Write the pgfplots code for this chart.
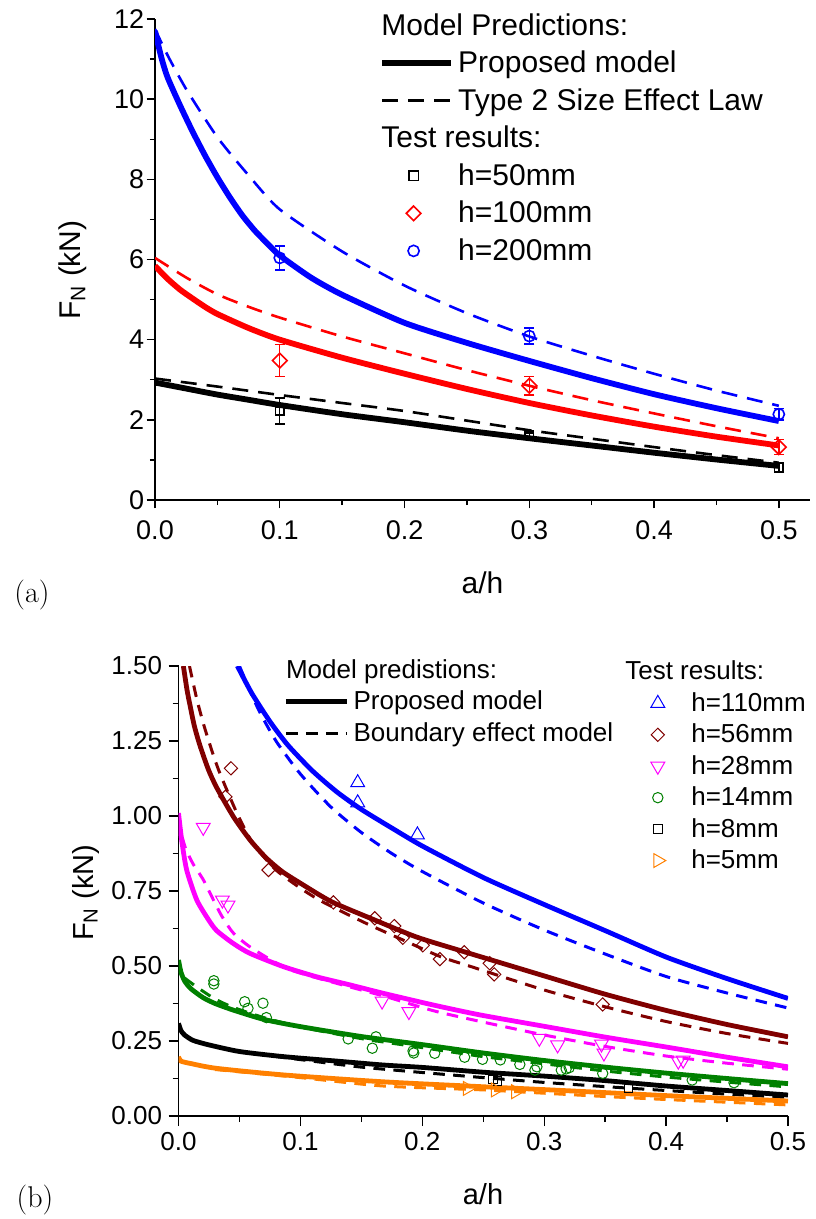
\documentclass[border=0pt]{standalone}
\usepackage{fontspec}
\setsansfont{Liberation Sans}
\usepackage{pgfplots}
\pgfplotsset{compat=1.18}
\definecolor{dred}{RGB}{128,0,0}
\definecolor{dgreen}{RGB}{0,128,0}
\definecolor{orng}{RGB}{255,128,0}
\definecolor{mag}{RGB}{255,0,255}
\pgfplotsset{
  tline/.style={legend image code/.code={\draw[##1] (0pt,0pt) -- (34.5pt,0pt);}},
  tmark/.style={legend image code/.code={\path[draw=none,fill=none] (0pt,0pt) -- (34.5pt,0pt); \path[##1] plot coordinates {(15.65pt,0pt)};}},
  bline/.style={legend image code/.code={\draw[##1] (0pt,0pt) -- (30.5pt,0pt);}},
  bmark/.style={legend image code/.code={\path[draw=none,fill=none] (0pt,0pt) -- (29pt,0pt); \path[##1] plot coordinates {(14.25pt,0pt)};}},
  tsolid/.style={line width=2.9pt, no markers, forget plot, smooth, tension=0.4},
  tdash/.style={line width=1.3pt, no markers, forget plot, smooth, tension=0.4, dash pattern=on 8pt off 5pt},
  bsolid/.style={line width=2.4pt, no markers, forget plot, smooth, tension=0.4},
  bdash/.style={line width=1.5pt, no markers, forget plot, smooth, tension=0.4, dash pattern=on 5.8pt off 4.2pt},
  ebar/.style={error bars/.cd, y dir=both, y explicit, error bar style={line width=0.7pt},
     error mark options={rotate=90, mark size=2.6pt, line width=0.7pt}},
}
\begin{document}
\begin{tikzpicture}
\useasboundingbox (0,0) rectangle (407.5pt,-609.5pt);
% ---------------- panel (a)
\begin{axis}[
  at={(77.5pt,-250pt)}, anchor=south west,
  scale only axis, width=327.5pt, height=240.5pt,
  xmin=0, xmax=0.525, ymin=0, ymax=12,
  axis lines*=left, tick align=outside,
  axis line style={line width=0.7pt},
  every tick/.style={black, line width=0.7pt},
  major tick length=4.2pt, minor tick length=2.6pt,
  xtick={0,0.1,0.2,0.3,0.4,0.5}, xticklabels={0.0,0.1,0.2,0.3,0.4,0.5},
  minor xtick={0.05,0.15,0.25,0.35,0.45},
  ytick={0,2,4,6,8,10,12}, yticklabels={0,2,4,6,8,10,12},
  minor ytick={1,3,5,7,9,11},
  tick label style={font=\sffamily\fontsize{13.5}{15}\selectfont},
  xticklabel style={inner ysep=6pt},
  yticklabel style={inner xsep=1pt},
  xlabel={a/h}, ylabel={F\textsubscript{N} (kN)},
  label style={font=\sffamily\fontsize{15}{17}\selectfont},
  xlabel style={at={(axis description cs:0.5,-0.1726)}, anchor=center},
  ylabel style={at={(axis description cs:-0.125,0.478)}, anchor=center},
  legend style={at={(axis description cs:0.342,1.021)}, anchor=north west, draw=none, fill=none,
     inner sep=0pt, row sep=2.4pt, font=\sffamily\fontsize{15}{17}\selectfont,
     nodes={inner sep=2pt, text depth=0.15em}},
  legend cell align=left,
]
% black h=50
\addplot[tsolid, black] coordinates {(0,2.93) (0.025,2.78) (0.05,2.63) (0.075,2.50) (0.1,2.37) (0.15,2.14) (0.2,1.94) (0.25,1.73) (0.3,1.54) (0.35,1.36) (0.4,1.18) (0.45,1.01) (0.5,0.85)};
\addplot[tdash, black] coordinates {(0,3.03) (0.05,2.83) (0.1,2.62) (0.15,2.42) (0.2,2.22) (0.25,1.98) (0.3,1.74) (0.35,1.53) (0.4,1.32) (0.45,1.12) (0.5,0.93)};
% red h=100
\addplot[tsolid, red] coordinates {(0,5.84) (0.01,5.52) (0.02,5.25) (0.03,5.03) (0.04,4.82) (0.05,4.64) (0.075,4.29) (0.1,4.0) (0.15,3.55) (0.2,3.15) (0.25,2.77) (0.3,2.42) (0.35,2.11) (0.4,1.83) (0.45,1.58) (0.5,1.36)};
\addplot[tdash, red] coordinates {(0,6.04) (0.025,5.55) (0.05,5.13) (0.075,4.82) (0.1,4.55) (0.15,4.08) (0.2,3.66) (0.25,3.24) (0.3,2.85) (0.35,2.49) (0.4,2.16) (0.45,1.84) (0.5,1.54)};
% blue h=200
\addplot[tsolid, blue] coordinates {(0,11.7) (0.005,11.05) (0.01,10.55) (0.02,9.85) (0.03,9.2) (0.04,8.6) (0.05,8.05) (0.06,7.55) (0.07,7.1) (0.08,6.72) (0.09,6.4) (0.1,6.1) (0.125,5.55) (0.15,5.12) (0.2,4.42) (0.25,3.92) (0.3,3.47) (0.35,3.04) (0.4,2.64) (0.45,2.29) (0.5,1.97)};
\addplot[tdash, blue] coordinates {(0,11.75) (0.01,11.1) (0.025,10.25) (0.05,9.05) (0.075,8.1) (0.1,7.25) (0.15,6.2) (0.2,5.35) (0.25,4.66) (0.3,4.08) (0.35,3.6) (0.4,3.15) (0.45,2.73) (0.5,2.35)};
% test results
\addplot[forget plot, only marks, black, mark=square, mark size=2.1pt, mark options={fill=white, line width=0.8pt}, ebar]
  coordinates {(0.1,2.22) +- (0,0.32) (0.3,1.62) +- (0,0.05) (0.5,0.81) +- (0,0.12)};
\addplot[forget plot, only marks, red, mark=square, mark size=2.6pt, mark options={rotate=45, fill=white, line width=0.8pt}, ebar]
  coordinates {(0.1,3.48) +- (0,0.4) (0.3,2.85) +- (0,0.23) (0.5,1.32) +- (0,0.19)};
\addplot[forget plot, only marks, blue, mark=o, mark size=2.8pt, mark options={fill=white, line width=0.8pt}, ebar]
  coordinates {(0.1,6.04) +- (0,0.3) (0.3,4.09) +- (0,0.2) (0.5,2.14) +- (0,0.14)};
% legend
\addlegendimage{empty legend}\addlegendentry{\hspace*{-38.4pt}Model Predictions:}
\addlegendimage{black, line width=2.9pt, tline}\addlegendentry{Proposed model}
\addlegendimage{black, line width=1.3pt, dash pattern=on 8pt off 5pt, tline}\addlegendentry{Type 2 Size Effect Law}
\addlegendimage{empty legend}\addlegendentry{\hspace*{-38.4pt}Test results:}
\addlegendimage{only marks, black, mark=square, mark size=2.4pt, mark options={line width=0.8pt, fill=white}, tmark}\addlegendentry{h=50mm}
\addlegendimage{only marks, red, mark=square, mark size=2.6pt, mark options={rotate=45, line width=0.8pt, fill=white}, tmark}\addlegendentry{h=100mm}
\addlegendimage{only marks, blue, mark=o, mark size=2.8pt, mark options={line width=0.8pt, fill=white}, tmark}\addlegendentry{h=200mm}
\end{axis}
% ---------------- panel (b)
\begin{axis}[
  at={(89.25pt,-558pt)}, anchor=south west,
  scale only axis, width=304.75pt, height=225pt,
  xmin=0, xmax=0.5, ymin=0, ymax=1.5,
  axis lines*=left, tick align=outside,
  axis line style={line width=0.7pt},
  every tick/.style={black, line width=0.7pt},
  major tick length=5pt, minor tick length=3pt,
  xtick={0,0.1,0.2,0.3,0.4,0.5}, xticklabels={0.0,0.1,0.2,0.3,0.4,0.5},
  minor xtick={0.05,0.15,0.25,0.35,0.45},
  ytick={0,0.25,0.5,0.75,1,1.25,1.5}, yticklabels={0.00,0.25,0.50,0.75,1.00,1.25,1.50},
  minor ytick={0.125,0.375,0.625,0.875,1.125,1.375},
  tick label style={font=\sffamily\fontsize{13}{15}\selectfont},
  xticklabel style={inner ysep=3pt},
  yticklabel style={inner xsep=3pt},
  xlabel={a/h}, ylabel={F\textsubscript{N} (kN)},
  label style={font=\sffamily\fontsize{14.5}{17}\selectfont},
  xlabel style={at={(axis description cs:0.4996,-0.173)}, anchor=center},
  ylabel style={at={(axis description cs:-0.152,0.496)}, anchor=center},
  legend style={at={(axis description cs:0.739,1.0209)}, anchor=north west, draw=none, fill=none,
     inner sep=0pt, row sep=0.8pt, font=\sffamily\fontsize{13}{15}\selectfont,
     nodes={inner sep=2pt, text depth=0.15em}},
  legend cell align=left,
]
% blue 110
\addplot[bsolid, blue] coordinates {(0.0483,1.5) (0.06,1.41) (0.075,1.315) (0.09,1.235) (0.11,1.15) (0.13,1.08) (0.15,1.022) (0.175,0.96) (0.2,0.9) (0.25,0.795) (0.3,0.705) (0.35,0.618) (0.4,0.53) (0.45,0.458) (0.5,0.392)};
\addplot[bdash, blue] coordinates {(0.05,1.5) (0.065,1.36) (0.08,1.25) (0.1,1.14) (0.125,1.03) (0.15,0.945) (0.175,0.875) (0.2,0.815) (0.25,0.71) (0.3,0.62) (0.35,0.54) (0.4,0.465) (0.45,0.41) (0.5,0.36)};
% dark red 56
\addplot[bsolid, dred] coordinates {(0.004,1.5) (0.007,1.42) (0.0094,1.37) (0.013,1.3) (0.0176,1.235) (0.0245,1.155) (0.0313,1.095) (0.045,0.998) (0.0587,0.92) (0.072,0.86) (0.085,0.815) (0.1,0.776) (0.1257,0.714) (0.16,0.655) (0.195,0.597) (0.234,0.548) (0.3,0.467) (0.35,0.406) (0.4,0.352) (0.45,0.305) (0.5,0.264)};
\addplot[bdash, dred] coordinates {(0.009,1.5) (0.015,1.39) (0.021,1.3) (0.028,1.21) (0.034,1.142) (0.048,1.009) (0.061,0.909) (0.08,0.82) (0.1024,0.753) (0.12,0.71) (0.154,0.642) (0.184,0.587) (0.215,0.531) (0.24,0.498) (0.3,0.42) (0.35,0.364) (0.4,0.315) (0.45,0.275) (0.5,0.242)};
% magenta 28
\addplot[bsolid, mag] coordinates {(0,1.01) (0.0026,0.92) (0.0067,0.82) (0.015,0.72) (0.0245,0.655) (0.0313,0.618) (0.045,0.575) (0.0587,0.542) (0.086,0.498) (0.1134,0.464) (0.1407,0.437) (0.168,0.409) (0.209,0.37) (0.2473,0.337) (0.3,0.299) (0.35,0.263) (0.4,0.23) (0.45,0.196) (0.5,0.164)};
\addplot[bdash, mag] coordinates {(0.003,0.93) (0.006,0.89) (0.012,0.84) (0.02,0.79) (0.025,0.75) (0.035,0.67) (0.045,0.61) (0.06,0.56) (0.09,0.49) (0.13,0.442) (0.17,0.398) (0.21,0.35) (0.25,0.313) (0.3,0.27) (0.35,0.232) (0.4,0.2) (0.45,0.176) (0.5,0.156)};
% green 14
\addplot[bsolid, dgreen] coordinates {(0,0.52) (0.002,0.48) (0.005,0.45) (0.01,0.425) (0.02,0.395) (0.03,0.375) (0.045,0.353) (0.07,0.322) (0.1,0.298) (0.15,0.265) (0.2,0.238) (0.25,0.21) (0.3,0.185) (0.35,0.163) (0.4,0.143) (0.45,0.125) (0.5,0.108)};
\addplot[bdash, dgreen] coordinates {(0.005,0.46) (0.015,0.43) (0.03,0.39) (0.045,0.362) (0.07,0.328) (0.1,0.297) (0.15,0.258) (0.2,0.228) (0.25,0.198) (0.3,0.174) (0.35,0.15) (0.4,0.13) (0.45,0.113) (0.5,0.097)};
% black 8
\addplot[bsolid, black] coordinates {(0,0.309) (0.002,0.285) (0.005,0.27) (0.012,0.252) (0.025,0.237) (0.05,0.215) (0.086,0.198) (0.13,0.183) (0.168,0.17) (0.2,0.162) (0.25,0.146) (0.3,0.133) (0.35,0.118) (0.4,0.1) (0.45,0.085) (0.5,0.07)};
\addplot[bdash, black] coordinates {(0.03,0.232) (0.05,0.215) (0.1,0.188) (0.15,0.163) (0.2,0.145) (0.25,0.128) (0.3,0.112) (0.35,0.098) (0.4,0.085) (0.45,0.073) (0.5,0.062)};
% orange 5
\addplot[bsolid, orng] coordinates {(0,0.198) (0.002,0.183) (0.01,0.175) (0.031,0.159) (0.086,0.137) (0.168,0.114) (0.2473,0.098) (0.3,0.088) (0.35,0.078) (0.4,0.068) (0.45,0.059) (0.5,0.05)};
\addplot[bdash, orng] coordinates {(0.03,0.155) (0.1,0.128) (0.168,0.1) (0.25,0.087) (0.3,0.076) (0.35,0.065) (0.4,0.055) (0.45,0.046) (0.5,0.037)};
% test results
\addplot[forget plot, only marks, blue, mark=triangle, mark size=4pt, mark options={fill=white, line width=0.5pt}]
  coordinates {(0.147,1.111) (0.147,1.044) (0.196,0.937)};
\addplot[forget plot, only marks, dred, mark=square, mark size=2.35pt, mark options={rotate=45, fill=white, line width=0.5pt}]
  coordinates {(0.043,1.159) (0.0385,1.064) (0.0738,0.82) (0.127,0.712) (0.161,0.659) (0.177,0.633) (0.184,0.594) (0.2004,0.569) (0.2144,0.523) (0.2344,0.546) (0.2553,0.509) (0.259,0.472) (0.348,0.372)};
\addplot[forget plot, only marks, mag, mark=triangle, mark size=4pt, mark options={rotate=180, fill=white, line width=0.5pt}]
  coordinates {(0.0203,0.962) (0.036,0.72) (0.0406,0.703) (0.167,0.383) (0.189,0.348) (0.296,0.259) (0.311,0.237) (0.347,0.24) (0.349,0.21) (0.41,0.183) (0.414,0.186)};
\addplot[forget plot, only marks, dgreen, mark=o, mark size=2.6pt, mark options={fill=white, line width=0.5pt}]
  coordinates {(0.029,0.451) (0.029,0.44) (0.0543,0.381) (0.057,0.359) (0.0693,0.376) (0.0721,0.328) (0.1392,0.257) (0.162,0.264) (0.159,0.226) (0.1924,0.217) (0.193,0.21) (0.2102,0.209) (0.2347,0.196) (0.2494,0.189) (0.264,0.187) (0.28,0.172) (0.2924,0.153) (0.294,0.164) (0.314,0.153) (0.318,0.157) (0.3205,0.161) (0.348,0.142) (0.4214,0.12) (0.4557,0.111)};
\addplot[forget plot, only marks, black, mark=square, mark size=2.1pt, mark options={fill=white, line width=0.5pt}]
  coordinates {(0.258,0.122) (0.2616,0.117) (0.3693,0.094)};
\addplot[forget plot, only marks, orng, mark=triangle, mark size=4pt, mark options={rotate=-90, fill=white, line width=0.5pt}]
  coordinates {(0.237,0.092) (0.26,0.087) (0.2766,0.081)};
% legend (test results)
\addlegendimage{empty legend}\addlegendentry{\hspace*{-33pt}Test results:}
\addlegendimage{only marks, blue, mark=triangle, mark size=4pt, mark options={line width=0.5pt}, bmark}\addlegendentry{h=110mm}
\addlegendimage{only marks, dred, mark=square, mark size=2.35pt, mark options={rotate=45, line width=0.5pt}, bmark}\addlegendentry{h=56mm}
\addlegendimage{only marks, mag, mark=triangle, mark size=4pt, mark options={rotate=180, line width=0.5pt}, bmark}\addlegendentry{h=28mm}
\addlegendimage{only marks, dgreen, mark=o, mark size=2.6pt, mark options={line width=0.5pt}, bmark}\addlegendentry{h=14mm}
\addlegendimage{only marks, black, mark=square, mark size=2.1pt, mark options={line width=0.5pt}, bmark}\addlegendentry{h=8mm}
\addlegendimage{only marks, orng, mark=triangle, mark size=4pt, mark options={rotate=-90, line width=0.5pt}, bmark}\addlegendentry{h=5mm}
\end{axis}
% overlay axis for model legend of panel (b)
\begin{axis}[
  at={(89.25pt,-558pt)}, anchor=south west,
  scale only axis, width=304.75pt, height=225pt,
  xmin=0, xmax=0.5, ymin=0, ymax=1.5, hide axis,
  legend style={at={(axis description cs:0.1714,1.0244)}, anchor=north west, draw=none, fill=none,
     inner sep=0pt, row sep=0.8pt, font=\sffamily\fontsize{13}{15}\selectfont,
     nodes={inner sep=2pt, text depth=0.15em}},
  legend cell align=left,
]
\addplot[draw=none, forget plot] coordinates {(0.25,0.75)};
\addlegendimage{empty legend}\addlegendentry{\hspace*{-33.75pt}Model predistions:}
\addlegendimage{black, line width=2.6pt, bline}\addlegendentry{Proposed model}
\addlegendimage{black, line width=1.5pt, dash pattern=on 5.8pt off 4.2pt, bline}\addlegendentry{Boundary effect model}
\end{axis}
\node[font=\rmfamily\fontsize{15}{17}\selectfont] at (16pt,-297.5pt) {(a)};
\node[font=\rmfamily\fontsize{15}{17}\selectfont] at (17.5pt,-600pt) {(b)};
\end{tikzpicture}
\end{document}
